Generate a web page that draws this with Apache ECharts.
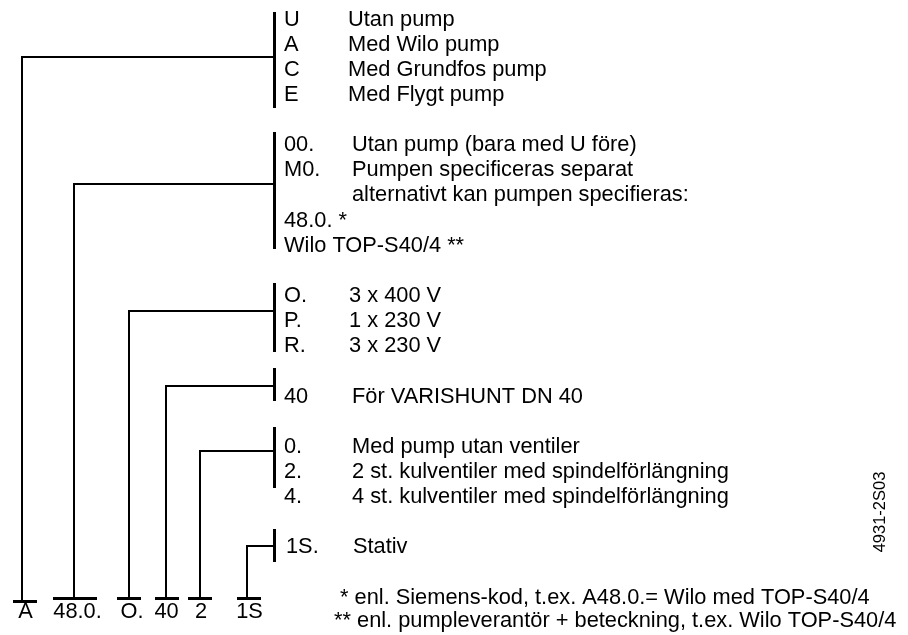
<!DOCTYPE html>
<html>
<head>
<meta charset="utf-8">
<script src="https://cdn.jsdelivr.net/npm/echarts@6/dist/echarts.min.js"></script>
<style>
html,body{margin:0;padding:0;background:#fff}
#main{width:908px;height:635px}
</style>
</head>
<body>
<div id="main"></div>
<script>
// typkoden, delarna från vänster till höger
var codeParts = ['A', '48.0.', 'O.', '40', '2', '1S'];

// alternativ för varje del: kod + text
var groupCodes = [
    ['U', 'A', 'C', 'E'],
    ['00.', 'M0.', '', '48.0. *', 'Wilo TOP-S40/4 **'],
    ['O.', 'P.', 'R.'],
    ['40'],
    ['0.', '2.', '4.'],
    ['1S.']
];
var groupTexts = [
    ['Utan pump', 'Med Wilo pump', 'Med Grundfos pump', 'Med Flygt pump'],
    ['Utan pump (bara med U före)', 'Pumpen specificeras separat', 'alternativt kan pumpen specifieras:', '', ''],
    ['3 x 400 V', '1 x 230 V', '3 x 230 V'],
    ['För VARISHUNT DN 40'],
    ['Med pump utan ventiler', '2 st. kulventiler med spindelförlängning', '4 st. kulventiler med spindelförlängning'],
    ['Stativ']
];
var footnotes = [
    '* enl. Siemens-kod, t.ex. A48.0.= Wilo med TOP-S40/4',
    '** enl. pumpleverantör + beteckning, t.ex. Wilo TOP-S40/4'
];
var drawingNo = '4931-2S03';

// layout, i en 908 x 635 ram
var rowTop = 19.5, rowStep = 25.14;
var firstRow = [0, 5, 11, 15, 17, 21];
var bracketSpan = [[12, 108], [132, 249], [283, 352], [368, 401], [427, 488], [529, 562]];
var tapY = [57, 184, 311, 386, 451, 546];
var stemX = [22, 74, 129, 166, 200, 247];
var footBar = [[13, 37], [53, 97], [117, 141], [155, 179], [188, 212], [237, 261]];
var footBarY = [601.5, 598.5, 598.5, 598.5, 598.5, 598.5];
var labelX = [25.5, 77.5, 132, 166.5, 201, 249.5];
var labelY = 612;
var bracketX = 274.5, codeX = 284;
var descX = [348, 352, 349, 352, 352, 353];
var footX = [340, 334], footY = [598, 621];

var FONT = '"Liberation Sans", Arial, sans-serif';
var FS = 21.8;

var myChart = echarts.init(document.getElementById('main'));

function txt(pt, s, align) {
    return {
        type: 'text',
        style: {
            x: pt[0], y: pt[1], text: s,
            fill: '#000', fontFamily: FONT, fontSize: FS,
            align: align || 'left', verticalAlign: 'middle'
        }
    };
}

function renderGroup(params, api) {
    var g = api.value(0);
    var p = function (x, y) { return api.coord([x, y]); };
    var kids = [];
    // hakparentes vid alternativen
    var t = p(bracketX, bracketSpan[g][0]), b = p(bracketX, bracketSpan[g][1]);
    kids.push({type: 'line', shape: {x1: t[0], y1: t[1], x2: b[0], y2: b[1]}, style: {stroke: '#000', lineWidth: 3}});
    // ledning ner till koden
    kids.push({
        type: 'polyline',
        shape: {points: [p(bracketX, tapY[g]), p(stemX[g], tapY[g]), p(stemX[g], footBarY[g])]},
        style: {stroke: '#000', lineWidth: 2, fill: null}
    });
    var l = p(footBar[g][0], footBarY[g]), r = p(footBar[g][1], footBarY[g]);
    kids.push({type: 'line', shape: {x1: l[0], y1: l[1], x2: r[0], y2: r[1]}, style: {stroke: '#000', lineWidth: 3}});
    kids.push(txt(p(labelX[g], labelY), codeParts[g], 'center'));
    // alternativen
    for (var i = 0; i < groupCodes[g].length; i++) {
        var y = rowTop + (firstRow[g] + i) * rowStep;
        if (groupCodes[g][i]) kids.push(txt(p(g == 5 ? codeX + 2 : codeX, y), groupCodes[g][i]));
        if (groupTexts[g][i]) kids.push(txt(p(descX[g], y), groupTexts[g][i]));
    }
    return {type: 'group', children: kids};
}

function renderNote(params, api) {
    var i = api.value(0);
    return txt(api.coord([footX[i], footY[i]]), footnotes[i]);
}

var option = {
    animation: false,
    grid: {left: 0, right: 0, top: 0, bottom: 0},
    xAxis: {type: 'value', min: 0, max: 908, show: false},
    yAxis: {type: 'value', min: 0, max: 635, inverse: true, show: false},
    graphic: [{
        type: 'text',
        x: 880, y: 512,
        rotation: Math.PI / 2,
        style: {
            text: drawingNo, fill: '#000', fontFamily: FONT, fontSize: 16.5,
            align: 'center', verticalAlign: 'middle'
        }
    }],
    series: [{
        type: 'custom',
        silent: true,
        clip: false,
        renderItem: renderGroup,
        data: codeParts.map(function (c, i) { return [i, 0]; })
    }, {
        type: 'custom',
        silent: true,
        clip: false,
        renderItem: renderNote,
        data: footnotes.map(function (f, i) { return [i, 0]; })
    }]
};
myChart.setOption(option);
</script>
</body>
</html>
